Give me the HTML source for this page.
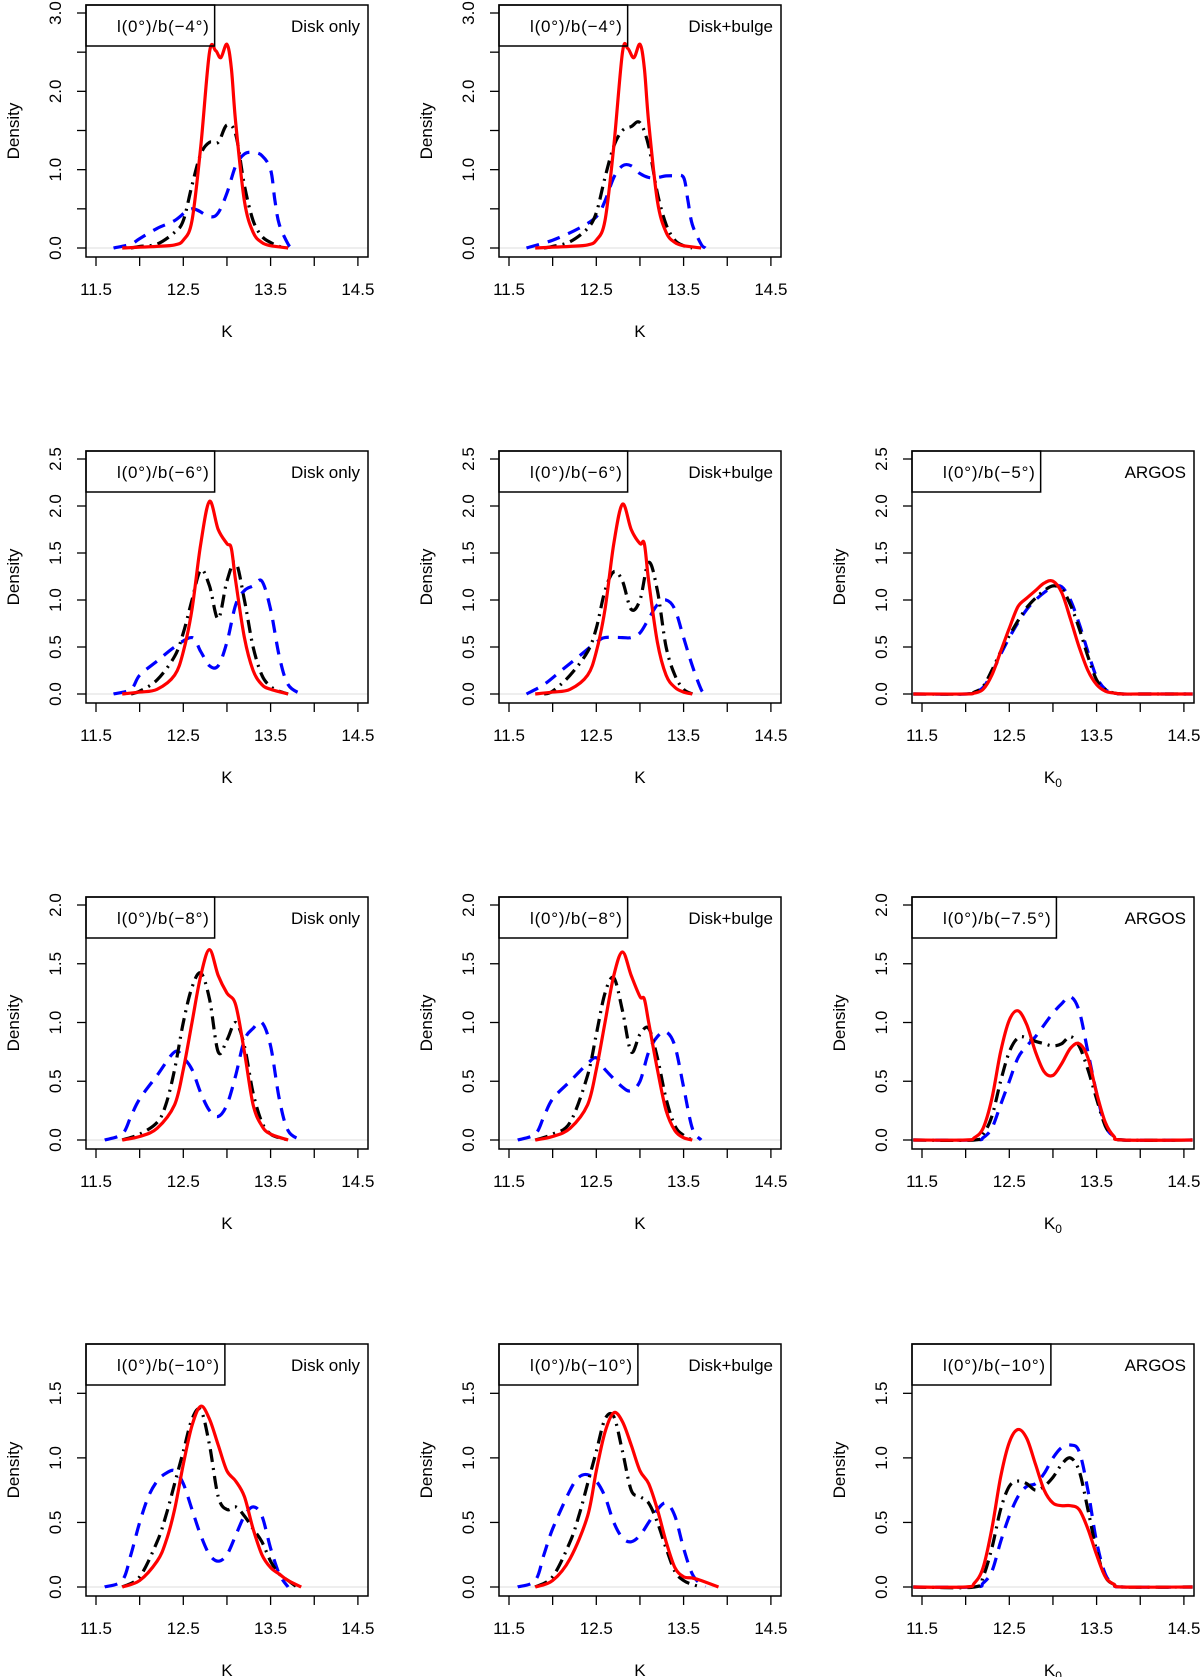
<!DOCTYPE html>
<html><head><meta charset="utf-8"><style>
html,body{margin:0;padding:0;background:#fff;}
svg{display:block;font-family:"Liberation Sans","DejaVu Sans",sans-serif;}
</style></head><body>
<svg id="fig" width="1200" height="1677" viewBox="0 0 1200 1677"></svg>
<script>
// ---- data ----
const colLefts=[86,499,912];
const rowTops=[5,451,897,1344];
const rowYmax=[3.0,2.5,2.0,1.82];
const rowYTicks=[[0,0.5,1,1.5,2,2.5,3],[0,0.5,1,1.5,2,2.5],[0,0.5,1,1.5,2],[0,0.5,1,1.5]];
const rowYLabels=[["0.0","","1.0","","2.0","","3.0"],["0.0","0.5","1.0","1.5","2.0","2.5"],["0.0","0.5","1.0","1.5","2.0"],["0.0","0.5","1.0","1.5"]];
const xTicks=[11.5,12,12.5,13,13.5,14,14.5];
const xTickLabels=["11.5","","12.5","","13.5","","14.5"];
const panelLegends=["l(0°)/b(−4°)","l(0°)/b(−4°)",null,"l(0°)/b(−6°)","l(0°)/b(−6°)","l(0°)/b(−5°)","l(0°)/b(−8°)","l(0°)/b(−8°)","l(0°)/b(−7.5°)","l(0°)/b(−10°)","l(0°)/b(−10°)","l(0°)/b(−10°)"];
const panelTitles=["Disk only","Disk+bulge",null,"Disk only","Disk+bulge","ARGOS","Disk only","Disk+bulge","ARGOS","Disk only","Disk+bulge","ARGOS"];

// panel 1 (row1 col1)
const p1RedX=[11.8,12.0,12.2,12.4,12.5,12.6,12.7,12.8,12.87,12.93,13.0,13.05,13.1,13.2,13.3,13.4,13.5,13.7];
const p1RedY=[0,0.01,0.02,0.04,0.1,0.35,1.3,2.5,2.52,2.43,2.6,2.3,1.6,0.6,0.2,0.07,0.03,0];
const p1BlkX=[11.9,12.0,12.2,12.4,12.5,12.6,12.7,12.8,12.9,13.0,13.1,13.2,13.3,13.4,13.5,13.6,13.7];
const p1BlkY=[0,0.02,0.05,0.2,0.35,0.8,1.2,1.35,1.35,1.57,1.45,0.8,0.35,0.15,0.07,0.02,0];
const p1BluX=[11.7,11.9,12.0,12.2,12.4,12.6,12.8,12.9,13.0,13.1,13.2,13.3,13.4,13.5,13.55,13.6,13.7,13.75];
const p1BluY=[0,0.05,0.12,0.25,0.35,0.5,0.4,0.45,0.7,1.05,1.2,1.22,1.18,1.0,0.6,0.3,0.05,0];
// panel 2
const p2RedX=[11.8,12.0,12.2,12.4,12.5,12.6,12.7,12.8,12.86,12.93,13.0,13.05,13.1,13.2,13.3,13.4,13.5,13.7];
const p2RedY=[0,0.01,0.02,0.04,0.1,0.35,1.3,2.5,2.55,2.43,2.6,2.3,1.6,0.6,0.2,0.07,0.03,0];
const p2BlkX=[11.9,12.0,12.2,12.4,12.5,12.6,12.7,12.8,12.9,13.0,13.1,13.2,13.3,13.4,13.5,13.6];
const p2BlkY=[0,0.02,0.08,0.25,0.45,0.9,1.3,1.5,1.55,1.6,1.3,0.7,0.3,0.1,0.03,0];
const p2BluX=[11.7,12.0,12.3,12.5,12.6,12.7,12.8,12.9,13.0,13.1,13.2,13.3,13.4,13.5,13.55,13.6,13.7,13.75];
const p2BluY=[0,0.1,0.25,0.4,0.6,0.9,1.05,1.05,0.95,0.9,0.9,0.92,0.92,0.9,0.6,0.3,0.05,0];
// panel 4
const p4RedX=[11.8,12.0,12.2,12.4,12.5,12.6,12.7,12.8,12.9,13.0,13.05,13.1,13.2,13.3,13.4,13.5,13.7];
const p4RedY=[0,0.02,0.05,0.2,0.45,0.9,1.6,2.05,1.75,1.6,1.55,1.2,0.6,0.25,0.1,0.05,0];
const p4BlkX=[11.9,12.0,12.2,12.4,12.5,12.6,12.7,12.8,12.9,13.0,13.1,13.2,13.3,13.4,13.5,13.6,13.7];
const p4BlkY=[0,0.03,0.15,0.4,0.65,1.0,1.32,1.15,0.8,1.2,1.4,1.0,0.5,0.2,0.08,0.03,0];
const p4BluX=[11.7,11.9,12.0,12.2,12.4,12.6,12.7,12.8,12.9,13.0,13.1,13.2,13.3,13.4,13.5,13.6,13.7,13.85];
const p4BluY=[0,0.05,0.2,0.35,0.5,0.6,0.45,0.3,0.3,0.55,0.95,1.1,1.15,1.2,0.9,0.4,0.1,0];
// panel 5
const p5RedX=[11.8,12.0,12.2,12.4,12.5,12.6,12.7,12.8,12.9,13.0,13.05,13.1,13.2,13.3,13.4,13.5,13.6];
const p5RedY=[0,0.02,0.05,0.2,0.45,0.9,1.6,2.02,1.75,1.6,1.6,1.2,0.55,0.2,0.07,0.02,0];
const p5BlkX=[11.9,12.0,12.2,12.4,12.5,12.6,12.7,12.8,12.9,13.0,13.1,13.2,13.3,13.4,13.5,13.6];
const p5BlkY=[0,0.03,0.2,0.45,0.7,1.1,1.3,1.2,0.9,1.0,1.4,1.1,0.5,0.2,0.05,0];
const p5BluX=[11.7,11.9,12.1,12.3,12.5,12.6,12.8,12.9,13.0,13.1,13.2,13.3,13.4,13.5,13.6,13.7,13.75];
const p5BluY=[0,0.1,0.25,0.4,0.55,0.6,0.6,0.6,0.65,0.8,0.95,1.0,0.9,0.6,0.3,0.05,0];
// panel 6 (ARGOS b-5)
const p6RedX=[11.4,12.0,12.1,12.2,12.3,12.4,12.5,12.6,12.7,12.8,12.9,13.0,13.1,13.2,13.3,13.4,13.5,13.6,13.7,13.8,14.0,14.6];
const p6RedY=[0,0,0.01,0.05,0.2,0.45,0.7,0.93,1.02,1.1,1.18,1.2,1.08,0.8,0.5,0.25,0.1,0.03,0.01,0,0,0];
const p6BlkX=[11.4,12.0,12.1,12.2,12.3,12.4,12.5,12.6,12.7,12.8,12.9,13.0,13.1,13.2,13.3,13.4,13.5,13.6,13.7,13.8,14.0,14.6];
const p6BlkY=[0,0,0.02,0.08,0.25,0.45,0.62,0.78,0.92,1.02,1.1,1.15,1.12,0.95,0.7,0.4,0.15,0.05,0.01,0,0,0];
const p6BluX=[11.4,12.0,12.1,12.2,12.3,12.4,12.5,12.6,12.7,12.8,12.9,13.0,13.1,13.2,13.3,13.4,13.5,13.6,13.7,13.8,14.0,14.6];
const p6BluY=[0,0,0.02,0.07,0.22,0.42,0.6,0.76,0.9,1.0,1.08,1.14,1.14,1.0,0.75,0.45,0.18,0.05,0.01,0,0,0];
// panel 7
const p7RedX=[11.8,12.0,12.2,12.4,12.5,12.6,12.7,12.8,12.9,13.0,13.1,13.2,13.3,13.4,13.5,13.7];
const p7RedY=[0,0.03,0.1,0.3,0.6,1.0,1.4,1.62,1.4,1.25,1.15,0.75,0.3,0.12,0.05,0];
const p7BlkX=[11.8,12.0,12.2,12.3,12.4,12.5,12.6,12.7,12.8,12.9,13.0,13.1,13.2,13.3,13.4,13.5,13.6,13.7];
const p7BlkY=[0,0.05,0.15,0.3,0.6,1.0,1.3,1.42,1.2,0.75,0.85,1.0,0.8,0.4,0.15,0.05,0.02,0];
const p7BluX=[11.6,11.8,11.9,12.0,12.2,12.4,12.5,12.6,12.7,12.8,12.9,13.0,13.1,13.2,13.3,13.4,13.5,13.6,13.7,13.85];
const p7BluY=[0,0.05,0.2,0.35,0.55,0.75,0.7,0.6,0.4,0.25,0.2,0.3,0.55,0.85,0.95,1.0,0.8,0.35,0.08,0];
// panel 8
const p8RedX=[11.8,12.0,12.2,12.4,12.5,12.6,12.7,12.8,12.9,13.0,13.05,13.1,13.2,13.3,13.4,13.5,13.6];
const p8RedY=[0,0.03,0.1,0.3,0.6,1.0,1.4,1.6,1.4,1.22,1.2,1.0,0.6,0.25,0.08,0.02,0];
const p8BlkX=[11.8,12.0,12.2,12.4,12.5,12.6,12.7,12.8,12.9,13.0,13.1,13.2,13.3,13.4,13.5,13.6];
const p8BlkY=[0,0.05,0.15,0.55,0.9,1.25,1.38,1.1,0.75,0.9,0.95,0.7,0.35,0.12,0.04,0];
const p8BluX=[11.6,11.8,11.9,12.0,12.2,12.4,12.5,12.6,12.8,12.9,13.0,13.1,13.2,13.3,13.4,13.5,13.6,13.7];
const p8BluY=[0,0.05,0.2,0.35,0.5,0.65,0.7,0.6,0.45,0.42,0.5,0.75,0.88,0.92,0.8,0.45,0.1,0];
// panel 9 (ARGOS b-7.5)
const p9RedX=[11.4,12.0,12.1,12.2,12.3,12.4,12.5,12.6,12.7,12.8,12.9,13.0,13.1,13.2,13.3,13.4,13.5,13.6,13.7,13.8,14.6];
const p9RedY=[0,0,0.02,0.1,0.35,0.75,1.02,1.1,0.98,0.75,0.58,0.55,0.65,0.78,0.82,0.7,0.4,0.15,0.03,0,0];
const p9BlkX=[11.4,12.1,12.2,12.3,12.4,12.5,12.6,12.7,12.8,12.9,13.0,13.1,13.2,13.3,13.4,13.5,13.6,13.7,13.8,14.6];
const p9BlkY=[0,0,0.05,0.2,0.5,0.75,0.87,0.87,0.84,0.82,0.8,0.82,0.88,0.8,0.6,0.35,0.12,0.03,0,0];
const p9BluX=[11.4,12.1,12.2,12.3,12.4,12.5,12.6,12.7,12.8,12.9,13.0,13.1,13.2,13.3,13.4,13.5,13.6,13.7,13.8,14.6];
const p9BluY=[0,0,0.02,0.1,0.3,0.5,0.7,0.8,0.88,0.98,1.08,1.16,1.22,1.1,0.75,0.4,0.12,0.03,0,0];
// panel 10
const p10RedX=[11.8,12.0,12.2,12.3,12.4,12.5,12.6,12.7,12.8,12.9,13.0,13.1,13.2,13.3,13.4,13.5,13.6,13.7,13.85];
const p10RedY=[0,0.05,0.2,0.35,0.6,0.95,1.25,1.4,1.3,1.1,0.9,0.82,0.7,0.45,0.25,0.15,0.1,0.05,0];
const p10BlkX=[11.8,12.0,12.2,12.3,12.4,12.5,12.6,12.7,12.8,12.9,13.0,13.1,13.2,13.3,13.4,13.5,13.6,13.7,13.8];
const p10BlkY=[0,0.08,0.35,0.55,0.8,1.05,1.3,1.37,1.1,0.7,0.6,0.62,0.55,0.45,0.35,0.2,0.1,0.05,0];
const p10BluX=[11.6,11.8,11.9,12.0,12.1,12.2,12.3,12.4,12.5,12.6,12.7,12.8,12.9,13.0,13.1,13.2,13.3,13.4,13.5,13.6,13.7];
const p10BluY=[0,0.05,0.25,0.5,0.7,0.82,0.88,0.9,0.8,0.6,0.4,0.25,0.2,0.25,0.4,0.55,0.62,0.55,0.3,0.1,0];
// panel 11
const p11RedX=[11.8,12.0,12.2,12.4,12.5,12.6,12.7,12.8,12.9,13.0,13.1,13.2,13.3,13.4,13.5,13.6,13.7,13.9];
const p11RedY=[0,0.05,0.22,0.55,0.9,1.2,1.35,1.28,1.1,0.9,0.8,0.6,0.35,0.15,0.08,0.07,0.05,0];
const p11BlkX=[11.8,12.0,12.2,12.3,12.4,12.5,12.6,12.7,12.8,12.9,13.0,13.1,13.2,13.3,13.4,13.5,13.6,13.7];
const p11BlkY=[0,0.08,0.35,0.55,0.8,1.05,1.3,1.32,1.05,0.75,0.7,0.65,0.5,0.3,0.12,0.05,0.02,0];
const p11BluX=[11.6,11.8,11.9,12.0,12.2,12.3,12.4,12.5,12.6,12.7,12.8,12.9,13.0,13.1,13.2,13.3,13.4,13.5,13.6,13.7,13.75];
const p11BluY=[0,0.05,0.25,0.45,0.75,0.85,0.87,0.82,0.7,0.5,0.38,0.35,0.4,0.5,0.6,0.65,0.55,0.3,0.1,0.02,0];
// panel 12 (ARGOS b-10)
const p12RedX=[11.4,12.0,12.1,12.2,12.3,12.4,12.5,12.6,12.7,12.8,12.9,13.0,13.1,13.2,13.3,13.4,13.5,13.6,13.7,13.8,14.6];
const p12RedY=[0,0,0.03,0.15,0.45,0.85,1.12,1.22,1.15,0.95,0.75,0.65,0.63,0.63,0.6,0.45,0.25,0.08,0.02,0,0];
const p12BlkX=[11.4,12.1,12.2,12.3,12.4,12.5,12.6,12.7,12.8,12.9,13.0,13.1,13.2,13.3,13.4,13.5,13.6,13.7,13.8,14.6];
const p12BlkY=[0,0,0.08,0.3,0.6,0.78,0.82,0.8,0.75,0.78,0.85,0.95,1.0,0.9,0.6,0.28,0.08,0.02,0,0];
const p12BluX=[11.4,12.1,12.2,12.3,12.4,12.5,12.6,12.7,12.8,12.9,13.0,13.1,13.2,13.3,13.4,13.5,13.6,13.7,13.8,14.6];
const p12BluY=[0,0,0.03,0.12,0.35,0.55,0.7,0.78,0.8,0.88,1.0,1.08,1.1,1.05,0.75,0.35,0.1,0.02,0,0];

const panelSeries=[
 [[p1BluX,p1BluY],[p1BlkX,p1BlkY],[p1RedX,p1RedY]],
 [[p2BluX,p2BluY],[p2BlkX,p2BlkY],[p2RedX,p2RedY]],
 null,
 [[p4BluX,p4BluY],[p4BlkX,p4BlkY],[p4RedX,p4RedY]],
 [[p5BluX,p5BluY],[p5BlkX,p5BlkY],[p5RedX,p5RedY]],
 [[p6BluX,p6BluY],[p6BlkX,p6BlkY],[p6RedX,p6RedY]],
 [[p7BluX,p7BluY],[p7BlkX,p7BlkY],[p7RedX,p7RedY]],
 [[p8BluX,p8BluY],[p8BlkX,p8BlkY],[p8RedX,p8RedY]],
 [[p9BluX,p9BluY],[p9BlkX,p9BlkY],[p9RedX,p9RedY]],
 [[p10BluX,p10BluY],[p10BlkX,p10BlkY],[p10RedX,p10RedY]],
 [[p11BluX,p11BluY],[p11BlkX,p11BlkY],[p11RedX,p11RedY]],
 [[p12BluX,p12BluY],[p12BlkX,p12BlkY],[p12RedX,p12RedY]]
];
const seriesNames=["disk-only-curve-blue","model-curve-black","observed-curve-red"];

// ---- drawing ----
const NS="http://www.w3.org/2000/svg";
const svg=document.getElementById('fig');
const BW=282,BH=252;
function mk(tag,attrs,parent){const e=document.createElementNS(NS,tag);for(const k in attrs)e.setAttribute(k,attrs[k]);(parent||svg).appendChild(e);return e;}
function smoothPath(pts){
  let d="M"+pts[0][0].toFixed(1)+","+pts[0][1].toFixed(1);
  for(let i=0;i<pts.length-1;i++){
    const p0=pts[Math.max(0,i-1)],p1=pts[i],p2=pts[i+1],p3=pts[Math.min(pts.length-1,i+2)];
    const c1x=p1[0]+(p2[0]-p0[0])/6,c1y=p1[1]+(p2[1]-p0[1])/6;
    const c2x=p2[0]-(p3[0]-p1[0])/6,c2y=p2[1]-(p3[1]-p1[1])/6;
    d+=" C"+c1x.toFixed(1)+","+c1y.toFixed(1)+" "+c2x.toFixed(1)+","+c2y.toFixed(1)+" "+p2[0].toFixed(1)+","+p2[1].toFixed(1);
  }
  return d;
}
const styles=[
 {stroke:"#0000ff",dash:"13 9"},
 {stroke:"#000000",dash:"13 6 2 6"},
 {stroke:"#ff0000",dash:""}
];
for(let r=0;r<4;r++){
 for(let c=0;c<3;c++){
  const idx=r*3+c;
  if(!panelSeries[idx])continue;
  const L=colLefts[c],T=rowTops[r],ymax=rowYmax[r];
  const xs=v=>L+10+(v-11.5)*87.3;
  const ys=v=>T+243-v*(235/ymax);
  const g=mk('g',{});
  
  
  const clipId='clip'+idx;
  const cp=mk('clipPath',{id:clipId},g);mk('rect',{x:L,y:T,width:BW,height:BH},cp);
  const zl=mk('line',{x1:L,x2:L+BW,y1:ys(0),y2:ys(0),stroke:"#dddddd","stroke-width":1},g);
  
  
  const cg=mk('g',{'clip-path':'url(#'+clipId+')'},g);
  panelSeries[idx].forEach((s,si)=>{
    const pts=s[0].map((x,i)=>[xs(x),ys(s[1][i])]);
    const p=mk('path',{d:smoothPath(pts),fill:"none",stroke:styles[si].stroke,"stroke-width":3.2,"stroke-dasharray":styles[si].dash,"stroke-linejoin":"round"},cg);
    
    
  });
  const bx=mk('rect',{x:L,y:T,width:BW,height:BH,fill:"none",stroke:"#000","stroke-width":1.5},g);
  
  
  rowYTicks[r].forEach((v,i)=>{
    mk('line',{x1:L-9,x2:L,y1:ys(v),y2:ys(v),stroke:"#000","stroke-width":1.3},g);
    if(rowYLabels[r][i]){
      const t=mk('text',{x:0,y:0,transform:"translate("+(L-25)+","+ys(v)+") rotate(-90)","text-anchor":"middle","font-size":17},g);
      t.textContent=rowYLabels[r][i];
      
      
    }
  });
  xTicks.forEach((v,i)=>{
    mk('line',{x1:xs(v),x2:xs(v),y1:T+BH,y2:T+BH+9,stroke:"#000","stroke-width":1.3},g);
    if(xTickLabels[i]){
      const t=mk('text',{x:xs(v),y:T+BH+38,"text-anchor":"middle","font-size":17},g);
      t.textContent=xTickLabels[i];
      
      
    }
  });
  const yt=mk('text',{transform:"translate("+(L-67)+","+(T+126)+") rotate(-90)","text-anchor":"middle","font-size":17},g);
  yt.textContent="Density";
  
  
  const xt=mk('text',{x:xs(13),y:T+BH+80,"text-anchor":"middle","font-size":17},g);
  if(c===2){xt.innerHTML='K<tspan dy="4" font-size="12">0</tspan>';}else{xt.textContent="K";}
  
  
  const lt=mk('text',{x:L+31,y:T+27,"font-size":17,"letter-spacing":"0.8"},g);
  lt.textContent=panelLegends[idx];
  
  
  const tw=lt.getComputedTextLength();
  const lb=mk('rect',{x:L,y:T,width:tw+36,height:41,fill:"none",stroke:"#000","stroke-width":1.5},g);
  
  
  const tt=mk('text',{x:L+274,y:T+27,"text-anchor":"end","font-size":17},g);
  tt.textContent=panelTitles[idx];
  
  
 }
}
</script>
</body></html>
